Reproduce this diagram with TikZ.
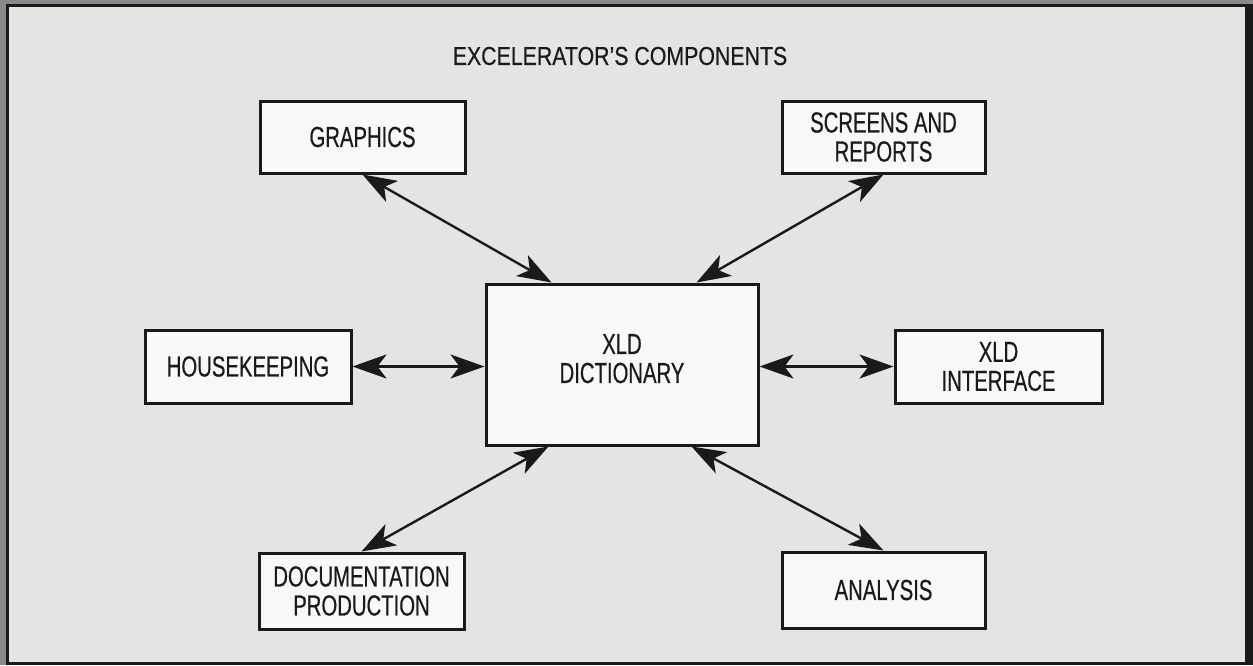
\documentclass[tikz,border=0pt]{standalone}
\usepackage{fontspec}
\setmainfont{Liberation Sans}[FakeStretch=0.70, FakeBold=0.4]
\newfontfamily\titlefont{Liberation Sans}[FakeStretch=0.82, FakeBold=0.4]
\usetikzlibrary{positioning, arrows.meta, calc}
\definecolor{paper}{HTML}{E4E4E2}
\definecolor{boxfill}{HTML}{F8F8F6}
\definecolor{rim}{HTML}{8A8A8A}
\definecolor{ink}{HTML}{1A1A1A}

\begin{document}
\begin{tikzpicture}[x=0.5pt, y=-0.5pt,
  comp/.style={draw=ink, line width=1.5pt, fill=boxfill, inner sep=0pt, align=center,
    font=\fontsize{14.5pt}{14.5pt}\selectfont, text=ink},
  link/.style={draw=ink, line width=1.2pt, {Stealth[length=17pt, width=12pt, inset=4.5pt]}-{Stealth[length=17pt, width=12pt, inset=4.5pt]}}]
\useasboundingbox (0,0) rectangle (1253,665);
% frame and page
\fill[rim] (0,0) rectangle (1253,665);
\fill[ink] (6,4) rectangle (1253,665);
\fill[paper] (9,7) rectangle (1245,662);
% title
\node[font=\titlefont\fontsize{13pt}{15pt}\selectfont, text=ink] (title) at (620,56) {EXCELERATOR’S COMPONENTS};
% components
\node[comp, minimum width=102.5pt, minimum height=36pt] (graphics) at (362.5,137) {GRAPHICS};
\node[comp, minimum width=101.5pt, minimum height=36pt] (screens) at (883.5,137) {SCREENS AND\\REPORTS};
\node[comp, minimum width=103pt, minimum height=36.5pt] (housekeeping) at (248,366.5) {HOUSEKEEPING};
\node[comp, minimum width=136pt, minimum height=80.5pt, text depth=6pt] (dict) at (622,364.5) {XLD\\DICTIONARY};
\node[comp, minimum width=103.5pt, minimum height=36.5pt] (interface) at (998.5,366.5) {XLD\\INTERFACE};
\node[comp, minimum width=102.5pt, minimum height=38pt] (doc) at (361.5,591) {DOCUMENTATION\\PRODUCTION};
\node[comp, minimum width=101.5pt, minimum height=38pt] (analysis) at (883.5,590) {ANALYSIS};
% connectors
\draw[link] (graphics.south) -- ($(dict.north west)+(67,0)$);
\draw[link] (screens.south) -- ($(dict.north east)+(-63,0)$);
\draw[link] (housekeeping.east) -- (dict.west |- housekeeping.east);
\draw[link] (dict.east |- interface.west) -- (interface.west);
\draw[link] ($(dict.south west)+(64,0)$) -- (doc.north);
\draw[link] ($(dict.south east)+(-68,0)$) -- (analysis.north);
\end{tikzpicture}
\end{document}
